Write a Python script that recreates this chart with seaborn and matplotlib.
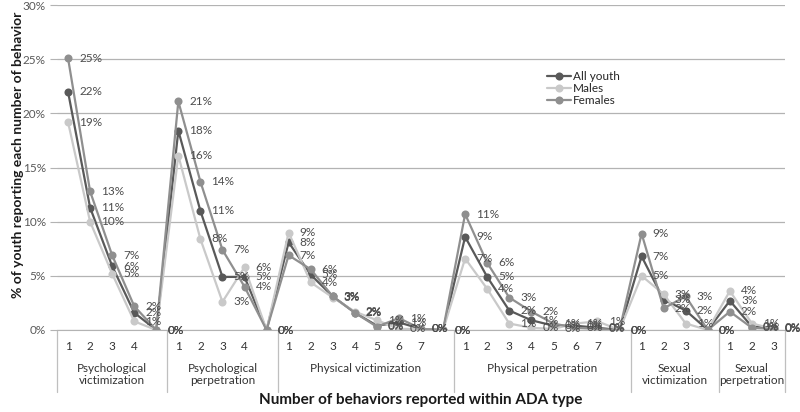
import pandas as pd
import seaborn as sns
import matplotlib.pyplot as plt
import matplotlib.transforms as mtransforms

# ADA types and number of behaviours in each (a blank "0" slot follows every group but the last)
groups = ["Psychological\nvictimization", "Psychological\nperpetration", "Physical victimization",
          "Physical perpetration", "Sexual\nvictimization", "Sexual\nperpetration"]
group_sizes = [4, 4, 7, 7, 3, 3]

all_youth = [22.0, 11.3, 5.9, 1.6, 0,
             18.4, 11.0, 4.9, 4.9, 0,
             8.1, 5.1, 3.1, 1.6, 0.4, 0.7, 0.1, 0,
             8.6, 4.9, 1.8, 0.9, 0.4, 0.4, 0.2, 0,
             6.8, 2.8, 1.8, 0,
             2.7, 0.3, 0.2]
males = [19.2, 10.0, 5.2, 0.8, 0,
         16.1, 8.4, 2.6, 5.8, 0,
         9.0, 4.4, 3.0, 1.7, 0.9, 0.1, 0.1, 0,
         6.6, 3.8, 0.6, 0.2, 0.1, 0.6, 0.8, 0,
         5.0, 3.3, 0.6, 0,
         3.6, 0.6, 0.1]
females = [25.1, 12.8, 6.9, 2.2, 0,
           21.1, 13.7, 7.4, 4.0, 0,
           6.9, 5.6, 3.1, 1.6, 0.3, 1.1, 0.1, 0,
           10.7, 6.2, 3.0, 1.7, 0.6, 0.2, 0.1, 0,
           8.9, 2.0, 3.1, 0,
           1.7, 0.2, 0.1]

series = {"All youth": all_youth, "Males": males, "Females": females}
colors = {"All youth": "#595959", "Males": "#c9c9c9", "Females": "#8f8f8f"}

# category tick labels and group boundaries
tick_labels = []
bounds = [-0.5]
for i, n in enumerate(group_sizes):
    tick_labels += [str(k) for k in range(1, n + 1)]
    if i < len(group_sizes) - 1:
        tick_labels.append("")
    bounds.append(len(tick_labels) - 0.5)

rows = []
for name, vals in series.items():
    for i, v in enumerate(vals):
        rows.append({"pos": i, "value": v, "series": name})
df = pd.DataFrame(rows)

sns.set_style("white")
plt.rcParams["font.family"] = ["Lato", "DejaVu Sans"]

fig = plt.figure(figsize=(8, 4.12), dpi=100)
ax = fig.add_axes([57 / 800, 1 - 330 / 412, 728 / 800, 325 / 412])

sns.lineplot(data=df, x="pos", y="value", hue="series", style="series",
             palette=colors, markers={k: "o" for k in series}, dashes=False,
             linewidth=1.6, markersize=5.8, markeredgewidth=0, ax=ax)

for name, vals in series.items():
    for i, v in enumerate(vals):
        ax.annotate(f"{v:.0f}%", (i, v), xytext=(8, 0), textcoords="offset points",
                    va="center", ha="left", fontsize=8.5, color="#4d4d4d")

ax.set_xlim(-0.5, len(tick_labels) - 0.5)
ax.set_ylim(0, 30)
ax.set_yticks(range(0, 31, 5))
ax.set_yticklabels([f"{t}%" for t in range(0, 31, 5)], fontsize=8.5, color="#595959")
ax.yaxis.grid(True, color="#b3b3b3", linewidth=0.9)
ax.tick_params(axis="y", length=5, color="#b3b3b3", left=True, pad=3)
ax.set_xticks(range(len(tick_labels)))
ax.set_xticklabels(tick_labels, fontsize=8.5, color="#333333")
ax.tick_params(axis="x", length=0, pad=8)
for s in ["top", "right", "left"]:
    ax.spines[s].set_visible(False)
ax.spines["bottom"].set_color("#b3b3b3")

trans = mtransforms.blended_transform_factory(ax.transData, ax.transAxes)
for b in bounds:
    ax.plot([b, b], [0, -0.19], transform=trans, color="#bfbfbf", linewidth=0.9, clip_on=False)
for g, lo, hi in zip(groups, bounds[:-1], bounds[1:]):
    ax.text((lo + hi) / 2, -0.1, g, transform=trans, ha="center", va="top",
            fontsize=8.5, color="#333333", linespacing=1.2)

ax.set_xlabel("")
ax.set_ylabel("")
fig.text(421 / 800, 1 - 400 / 412, "Number of behaviors reported within ADA type",
         ha="center", va="center", fontsize=11, fontweight="bold", color="#1a1a1a")
fig.text(18 / 800, 1 - 155 / 412, "% of youth reporting each number of behavior",
         ha="center", va="center", rotation=90, fontsize=10, fontweight="bold", color="#1a1a1a")

ax.legend(loc="upper left", bbox_to_anchor=(0.665, 0.815), frameon=False, fontsize=8.5,
          handlelength=2.0, labelspacing=0.1, handletextpad=0.2, borderpad=0)

fig.savefig("out.png", dpi=100)
